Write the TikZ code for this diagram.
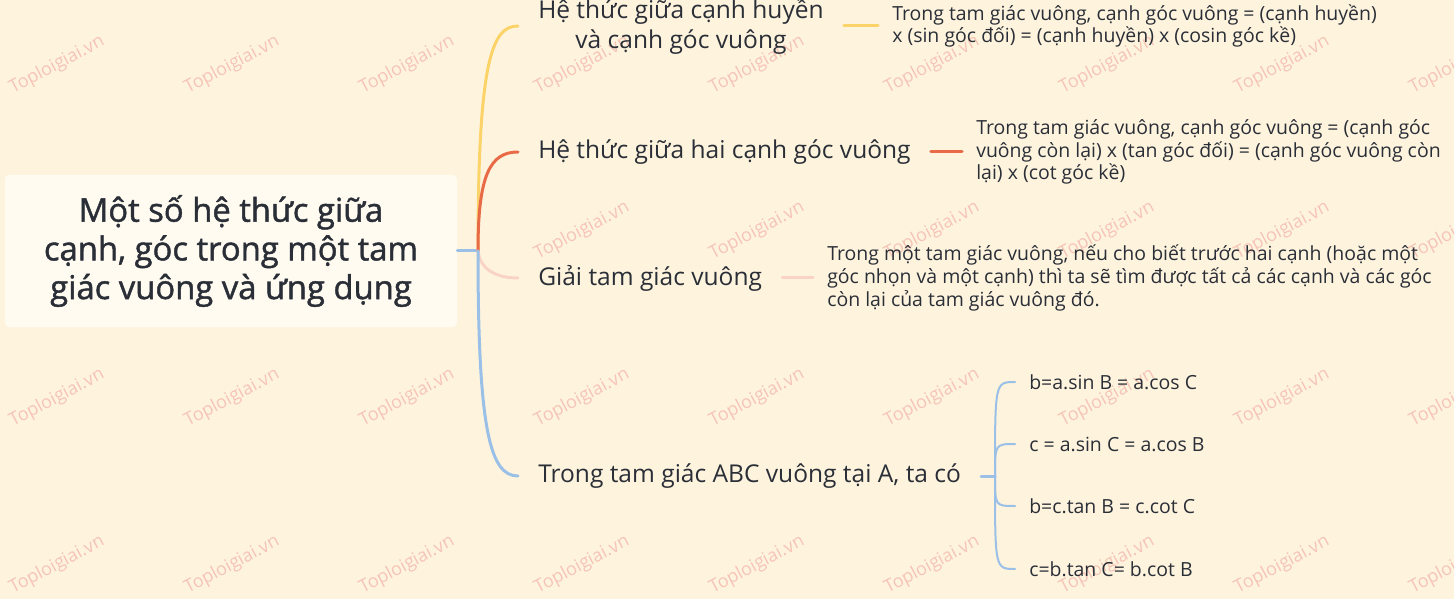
\documentclass[tikz,border=0pt]{standalone}
\usepackage{fontspec}
\setmainfont{Open Sans}
\newfontfamily\rootfont[FakeBold=1.3]{Open Sans}
\usetikzlibrary{positioning,calc}
\definecolor{bgcream}{RGB}{254,244,222}
\definecolor{rootfill}{RGB}{255,251,240}
\definecolor{ink}{RGB}{42,46,55}
\definecolor{markred}{RGB}{246,196,182}
\definecolor{lineyellow}{RGB}{252,211,104}
\definecolor{linered}{RGB}{232,106,70}
\definecolor{linepink}{RGB}{249,212,198}
\definecolor{lineblue}{RGB}{154,192,232}
\tikzset{
myroot/.style={
  fill=rootfill,
  rounded corners=3pt,
  text=ink,
  minimum width=339pt,
  minimum height=114pt,
  align=center,
  font=\rootfont\fontsize{24.6}{29}\selectfont
  },
mybranch/.style={
  anchor=west,
  text=ink,
  inner xsep=15pt,
  inner ysep=0pt,
  align=center,
  font=\fontsize{18.4}{22.5}\selectfont
  },
myleaf/.style={
  anchor=west,
  text=ink,
  inner xsep=10.5pt,
  inner ysep=0pt,
  align=left,
  font=\fontsize{14.6}{17}\selectfont
  },
mymark/.style={
  rotate=28,
  text=markred,
  font=\fontsize{13.5}{13.5}\selectfont
  },
mylink/.style={line width=2.25pt, line cap=round},
mysub/.style={line width=1.5pt, line cap=round, lineblue}
}

\begin{document}
\begin{tikzpicture}[x=0.75pt, y=-0.75pt]
  \fill[bgcream] (0,0) rectangle (1454,599);
  \useasboundingbox (0,0) rectangle (1454,599);

  \foreach \wx in {57,232,...,1457}
    \foreach \wy in {65,398,565}
      \node[mymark] (mark-\wx-\wy) at (\wx,\wy) {Toploigiai.vn};
  \foreach \wx in {582,757,...,1457}
    \node[mymark] (mark-\wx-231) at (\wx,231) {Toploigiai.vn};

  \node[myroot] (root) at (231,251) {Một số hệ thức giữa\\cạnh, góc trong một tam\\giác vuông và ứng dụng};

  \node[mybranch] (hyp)   at (518,26)  {Hệ thức giữa cạnh huyền\\và cạnh góc vuông};
  \node[mybranch] (legs)  at (518,152) {Hệ thức giữa hai cạnh góc vuông};
  \node[mybranch] (solve) at (518,278) {Giải tam giác vuông};
  \node[mybranch] (abc)   at (518,476) {Trong tam giác ABC vuông tại A, ta có};

  \node[myleaf] (hypnote)   at (878,26)  {Trong tam giác vuông, cạnh góc vuông = (cạnh huyền)\\x (sin góc đối) = (cạnh huyền) x (cosin góc kề)};
  \node[myleaf] (legsnote)  at (962,152) {Trong tam giác vuông, cạnh góc vuông = (cạnh góc\\vuông còn lại) x (tan góc đối) = (cạnh góc vuông còn\\lại) x (cot góc kề)};
  \node[myleaf] (solvenote) at (813,278) {Trong một tam giác vuông, nếu cho biết trước hai cạnh (hoặc một\\góc nhọn và một cạnh) thì ta sẽ tìm được tất cả các cạnh và các góc\\còn lại của tam giác vuông đó.};

  \node[myleaf] (rel1) at (1015,382) {b=a.sin B = a.cos C};
  \node[myleaf] (rel2) at (1015,444) {c = a.sin C = a.cos B};
  \node[myleaf] (rel3) at (1015,506) {b=c.tan B = c.cot C};
  \node[myleaf] (rel4) at (1015,569) {c=b.tan C= b.cot B};

  \coordinate (jn) at (478,251);
  \coordinate (fork) at (995,476);

  \draw[mylink, lineblue] (root.east) -- (jn);
  \draw[mylink, lineyellow] (jn) .. controls (478,60) and (492,26) .. (hyp.west);
  \draw[mylink, linered] (jn) .. controls (478,175) and (490,152) .. (legs.west);
  \draw[mylink, linepink] (jn) .. controls (480,268) and (494,278) .. (solve.west);
  \draw[mylink, lineblue] (jn) .. controls (478,430) and (490,476) .. (abc.west);

  \draw[mylink, lineyellow] (hyp.east) -- (hypnote.west);
  \draw[mylink, linered] (legs.east) -- (legsnote.west);
  \draw[mylink, linepink] (solve.east) -- (solvenote.west);
  \draw[mylink, lineblue] (abc.east) -- (fork);

  \draw[mysub] (fork) .. controls (995,382) .. (rel1.west);
  \draw[mysub] (fork) .. controls (995,444) .. (rel2.west);
  \draw[mysub] (fork) .. controls (995,506) .. (rel3.west);
  \draw[mysub] (fork) .. controls (995,569) .. (rel4.west);

\end{tikzpicture}
\end{document}
